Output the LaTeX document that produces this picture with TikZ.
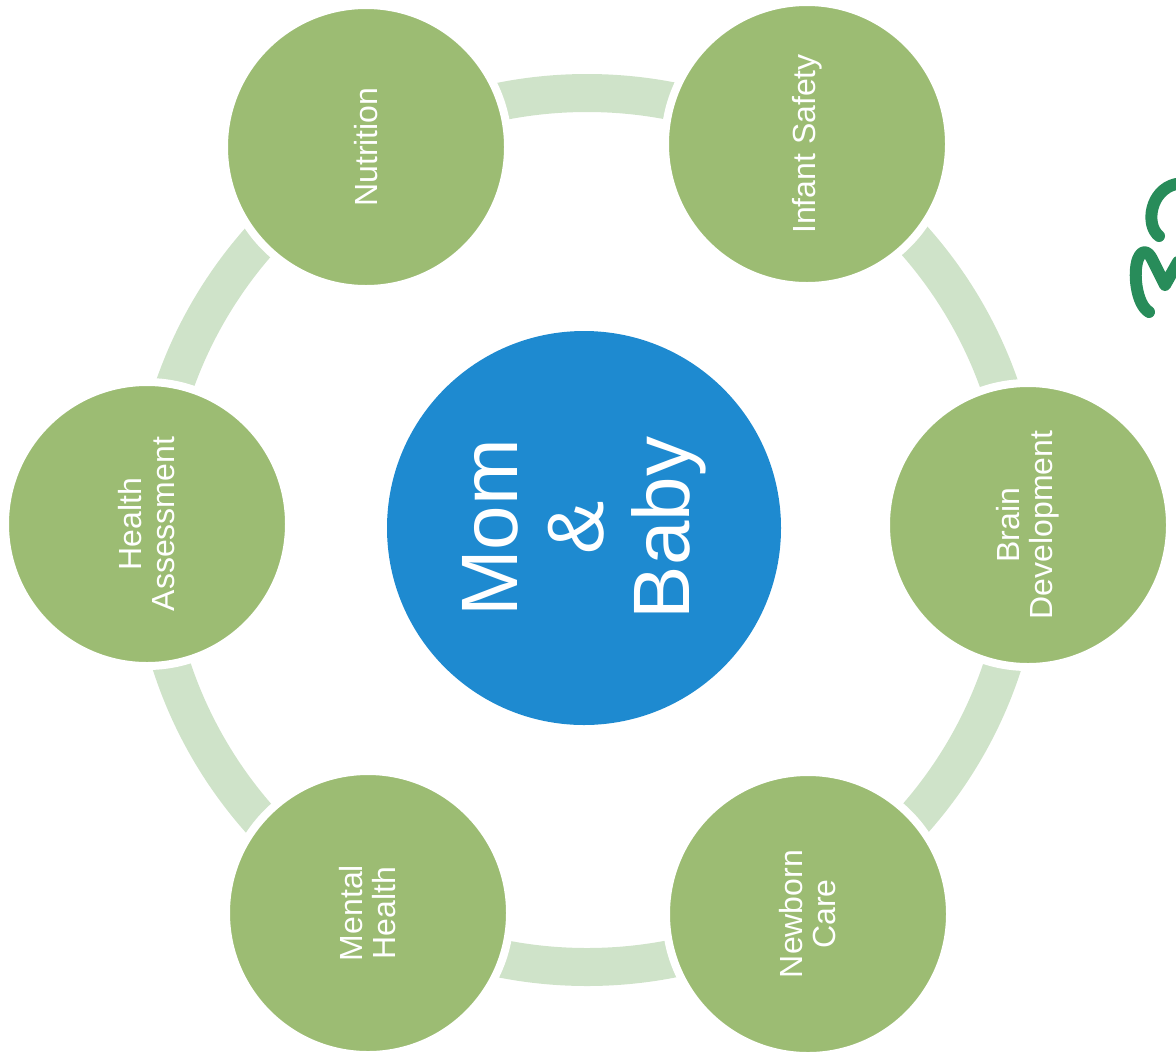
\documentclass[tikz,border=0pt]{standalone}
\usepackage{fontspec}
\setmainfont{Liberation Sans}
\usetikzlibrary{calc}

\definecolor{topicgreen}{RGB}{156,188,115}
\definecolor{ringgreen}{RGB}{207,227,201}
\definecolor{hubblue}{RGB}{30,138,208}
\definecolor{pengreen}{RGB}{40,140,90}

\begin{document}
\begin{tikzpicture}[x=0.5pt, y=-0.5pt,
    topic/.style={circle, fill=topicgreen, draw=white, line width=4pt, minimum size=142pt,
        inner sep=0pt, text=white, align=center, rotate=90,
        font=\fontsize{16}{16.5}\selectfont},
    hub/.style={circle, fill=hubblue, minimum size=197pt, inner sep=0pt, text=white,
        align=center, rotate=90, font=\fontsize{40}{43}\selectfont}]
    \useasboundingbox (0, 0) rectangle (1176, 1055);

    \coordinate (C) at (587, 530);
    \coordinate (Nu) at (366, 147);
    \coordinate (IS) at (807, 144);
    \coordinate (BD) at (1028, 525);
    \coordinate (NC) at (808, 914);
    \coordinate (MH) at (368, 913);
    \coordinate (HA) at (147, 524);

    % ring behind the topics
    \draw[ringgreen, line width=19pt] (C) circle (218.5pt);

    \node[topic] (nutrition) at (Nu) {Nutrition};
    \node[topic] (safety) at (IS) {Infant Safety};
    \node[topic] (brain) at (BD) {Brain\\Development};
    \node[topic] (newborn) at (NC) {Newborn\\Care};
    \node[topic] (mental) at (MH) {Mental\\Health};
    \node[topic] (health) at (HA) {Health\\Assessment};

    \node[hub] (hub) at (584, 528) {Mom\\\&\\Baby};

    % pen mark on the right edge
    \draw[pengreen, line width=6pt, line cap=round, line join=round]
        (1176, 184) .. controls (1150, 190) and (1145, 225) .. (1159, 236);
    \draw[pengreen, line width=6pt, line cap=round, line join=round]
        (1149, 312) .. controls (1136, 304) and (1133, 272) .. (1138, 259)
        .. controls (1142, 249) and (1148, 251) .. (1152, 259)
        -- (1165, 285) -- (1178, 262);
\end{tikzpicture}
\end{document}
